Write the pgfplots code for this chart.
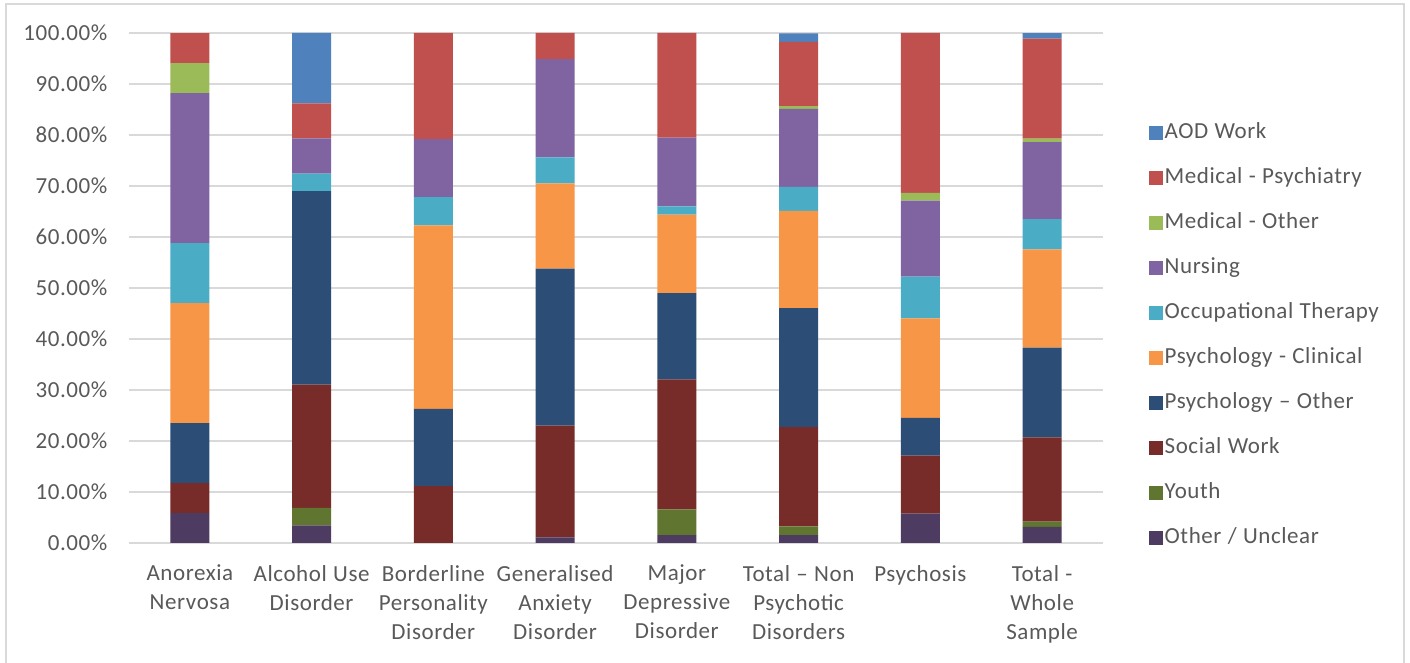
\documentclass[border=0pt]{standalone}
\usepackage{pgfplots}
\pgfplotsset{compat=1.18}
\usepackage{fontspec}
\setmainfont{Carlito}[LetterSpace=2.5,WordSpace=1.1]

\definecolor{aod}{HTML}{4F81BD}
\definecolor{medpsy}{HTML}{C0504D}
\definecolor{medoth}{HTML}{9BBB59}
\definecolor{nurs}{HTML}{8064A2}
\definecolor{occ}{HTML}{4BACC6}
\definecolor{psycl}{HTML}{F79646}
\definecolor{psyoth}{HTML}{2C4D75}
\definecolor{social}{HTML}{772C2A}
\definecolor{youth}{HTML}{5F7530}
\definecolor{other}{HTML}{4D3B62}
\definecolor{txt}{HTML}{595959}
\definecolor{gridc}{HTML}{D9D9D9}

\begin{document}
\begin{tikzpicture}
\useasboundingbox (0,0) rectangle (705pt,331.5pt);
\fill[white] (0,0) rectangle (705pt,331.5pt);
\draw[gridc, line width=0.75pt] (3pt,0) -- (3pt,329.5pt) -- (702pt,329.5pt) -- (702pt,0);
\begin{axis}[
    at={(64.5pt,60pt)}, anchor=south west,
    scale only axis, width=487pt, height=255pt,
    ybar stacked, bar width=19.5pt,
    xmin=-0.5, xmax=7.5, ymin=0, ymax=100,
    xtick={0,1,2,3,4,5,6,7},
    xticklabels={{Anorexia\\Nervosa},{Alcohol Use\\Disorder},{Borderline\\Personality\\Disorder},
        {Generalised\\Anxiety\\Disorder},{Major\\Depressive\\Disorder},{Total – Non\\Psychotic\\Disorders},
        {Psychosis},{Total -\\Whole\\Sample}},
    ytick={0,10,20,30,40,50,60,70,80,90,100},
    yticklabels={0.00\%,10.00\%,20.00\%,30.00\%,40.00\%,50.00\%,60.00\%,70.00\%,80.00\%,90.00\%,100.00\%},
    axis line style={draw=none},
    tick style={draw=none},
    ymajorgrids, grid style={gridc, line width=0.75pt},
    tick label style={text=txt, font=\fontsize{11.5}{14.5}\selectfont},
    xticklabel style={align=center, yshift=-7.5pt},
    yticklabel style={xshift=-7.3pt},
    legend image code/.code={\fill[#1] (0pt,-3.5pt) rectangle (7pt,3.5pt);},
    reverse legend,
    legend cell align=left,
    legend style={draw=none, fill=none, at={(axis description cs:1.0465,0.4068)}, anchor=west,
        inner sep=0pt, row sep=10pt, font=\fontsize{11.5}{13}\selectfont,
        nodes={text=txt, text height=8pt, text depth=2.5pt, inner sep=1pt},
        /tikz/every even column/.append style={column sep=2.5pt}},
]
% bottom to top
\addplot[fill=other, draw=none] coordinates {(0,5.88)(1,3.45)(2,0)(3,1.08)(4,1.55)(5,1.55)(6,5.74)(7,3.18)};
\addplot[fill=youth, draw=none] coordinates {(0,0)(1,3.45)(2,0)(3,0)(4,5.05)(5,1.69)(6,0)(7,1.01)};
\addplot[fill=social, draw=none] coordinates {(0,5.88)(1,24.14)(2,11.15)(3,21.92)(4,25.5)(5,19.5)(6,11.4)(7,16.5)};
\addplot[fill=psyoth, draw=none] coordinates {(0,11.76)(1,37.93)(2,15.15)(3,30.8)(4,16.9)(5,23.3)(6,7.4)(7,17.6)};
\addplot[fill=psycl, draw=none] coordinates {(0,23.53)(1,0)(2,36.0)(3,16.7)(4,15.4)(5,19.1)(6,19.5)(7,19.3)};
\addplot[fill=occ, draw=none] coordinates {(0,11.76)(1,3.45)(2,5.5)(3,5.1)(4,1.6)(5,4.7)(6,8.2)(7,5.9)};
\addplot[fill=nurs, draw=none] coordinates {(0,29.41)(1,6.90)(2,11.4)(3,19.3)(4,13.5)(5,15.3)(6,14.9)(7,15.1)};
\addplot[fill=medoth, draw=none] coordinates {(0,5.88)(1,0)(2,0)(3,0)(4,0)(5,0.5)(6,1.5)(7,0.7)};
\addplot[fill=medpsy, draw=none] coordinates {(0,5.88)(1,6.90)(2,20.8)(3,5.1)(4,20.5)(5,12.6)(6,31.4)(7,19.6)};
\addplot[fill=aod, draw=none] coordinates {(0,0)(1,13.79)(2,0)(3,0)(4,0)(5,1.7)(6,0)(7,1.1)};
\legend{Other / Unclear,Youth,Social Work,Psychology – Other,Psychology - Clinical,Occupational Therapy,Nursing,Medical - Other,Medical - Psychiatry,AOD Work}
\end{axis}
\end{tikzpicture}
\end{document}
